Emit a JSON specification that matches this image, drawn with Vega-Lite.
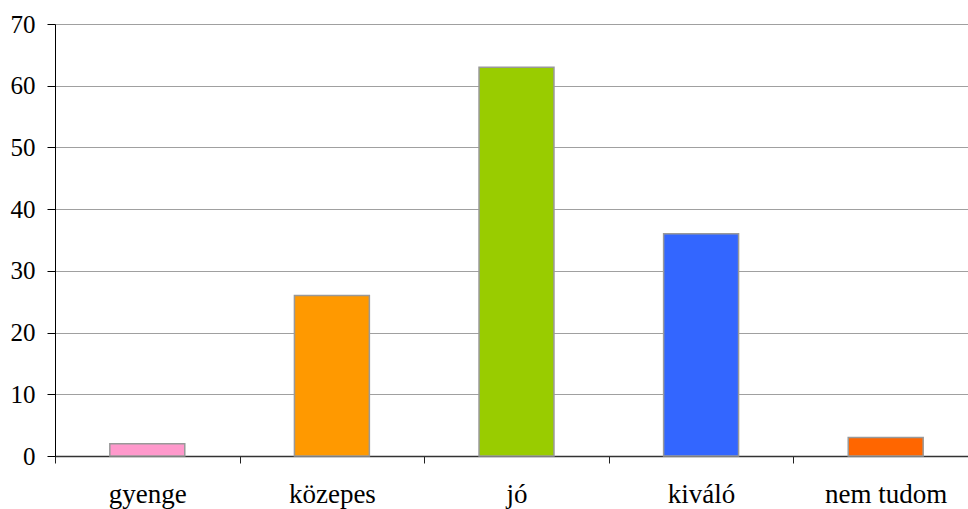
{
  "$schema": "https://vega.github.io/schema/vega-lite/v6.json",
  "width": 923,
  "height": 432,
  "autosize": {"type": "none"},
  "padding": {"left": 55, "top": 24, "right": 0, "bottom": 53},
  "background": "white",
  "data": {
    "values": [
      {"valasz": "gyenge", "db": 2, "szin": "#FF99CC"},
      {"valasz": "közepes", "db": 26, "szin": "#FF9900"},
      {"valasz": "jó", "db": 63, "szin": "#99CC00"},
      {"valasz": "kiváló", "db": 36, "szin": "#3366FF"},
      {"valasz": "nem tudom", "db": 3, "szin": "#FF6600"}
    ]
  },
  "config": {
    "view": {"stroke": null},
    "font": "Liberation Serif"
  },
  "mark": {"type": "bar", "stroke": "#999999", "strokeWidth": 1.5, "width": {"band": 0.406}},
  "encoding": {
    "x": {
      "field": "valasz",
      "type": "nominal",
      "sort": null,
      "scale": {"paddingInner": 0, "paddingOuter": 0},
      "axis": {
        "title": null,
        "labelAngle": 0,
        "labelFont": "Liberation Serif",
        "labelFontSize": 27,
        "labelColor": "black",
        "labelPadding": 18,
        "tickBand": "extent",
        "tickSize": 7,
        "tickColor": "#222222",
        "domainColor": "#333333",
        "domainWidth": 1.5,
        "grid": false
      }
    },
    "y": {
      "field": "db",
      "type": "quantitative",
      "scale": {"domain": [0, 70], "nice": false},
      "axis": {
        "title": null,
        "values": [0, 10, 20, 30, 40, 50, 60, 70],
        "labelFont": "Liberation Serif",
        "labelFontSize": 25,
        "labelColor": "black",
        "labelPadding": 12,
        "tickSize": 8,
        "tickColor": "black",
        "domainColor": "black",
        "grid": true,
        "gridColor": "#A0A0A0",
        "gridWidth": 1
      }
    },
    "fill": {"field": "szin", "type": "nominal", "scale": null, "legend": null}
  }
}
